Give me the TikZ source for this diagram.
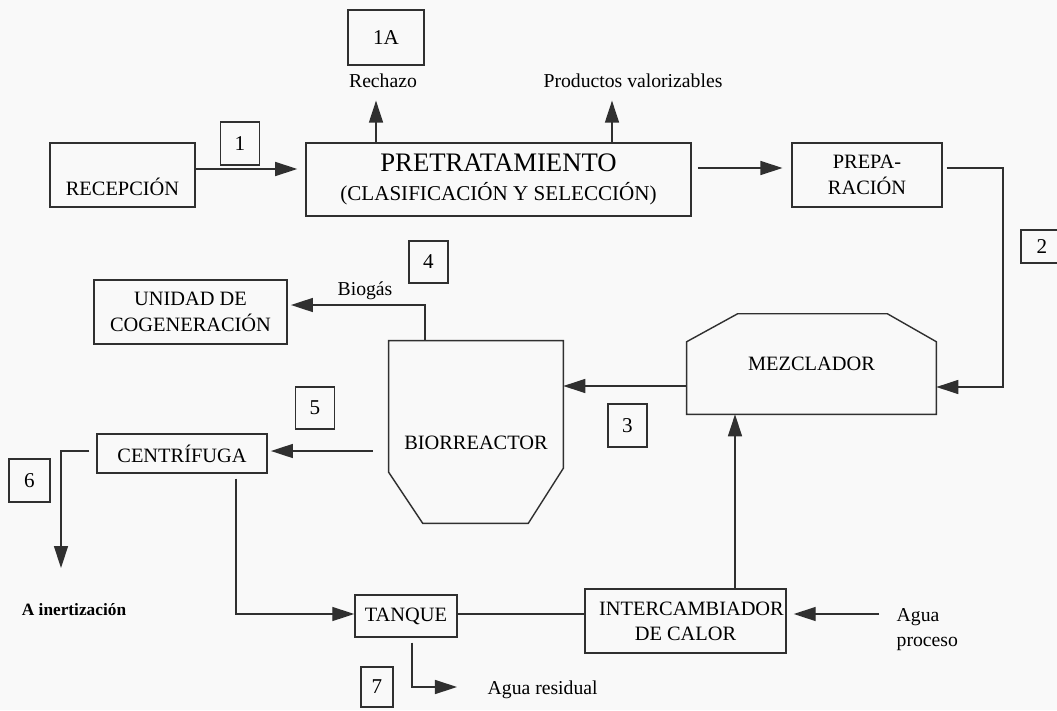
\documentclass[tikz,border=0pt]{standalone}
\usepackage{fontspec}
\setmainfont{Liberation Serif}
\usetikzlibrary{calc, positioning, arrows.meta}
\definecolor{ink}{HTML}{303030}
\definecolor{paper}{HTML}{F9F9F9}
\def\boxh{1.6cm}
\tikzstyle{unit}=[draw=ink, line width=1pt, rectangle, align=center, inner sep=1pt, font=\fontsize{14.5}{18}\selectfont]
\tikzstyle{tag}=[draw=ink, line width=1pt, rectangle, minimum width=0.975cm, minimum height=1.075cm, inner sep=0pt, font=\fontsize{15}{18}\selectfont]
\tikzstyle{note}=[inner sep=1pt, font=\fontsize{14}{18}\selectfont]
\tikzstyle{flow}=[draw=ink, line width=1pt, -{Triangle[length=0.55cm,width=0.35cm]}]
\tikzstyle{pipe}=[draw=ink, line width=1pt]
\begin{document}
\begin{tikzpicture}[x=0.025cm, y=-0.025cm]
		\fill[paper] (0,0) rectangle (1057,710);
		\useasboundingbox (0,0) rectangle (1057,710);
		% linea superior
		\node[unit, minimum width=3.625cm, minimum height=\boxh] (recep) at (122.5,175) {\raisebox{-0.5cm}[0pt][0pt]{RECEPCIÓN}};
		\node[tag] (t1) at (240,143.5) {1};
		\node[unit, minimum width=9.625cm, minimum height=1.825cm, font=\fontsize{15}{21}\selectfont] (pretrat) at (498.5,179.5) {{\fontsize{19}{21}\selectfont PRETRATAMIENTO}\\(CLASIFICACIÓN Y SELECCIÓN)};
		\node[unit, minimum width=3.75cm, minimum height=\boxh] (prepa) at (867,175) {PREPA-\\RACIÓN};
		\node[tag, minimum width=1.9cm, minimum height=1.375cm] (t1A) at (386,37.5) {1A};
		\node[note] (rechazo) at (383,81) {Rechazo};
		\node[note] (valor) at (633,81) {Productos valorizables};
		\draw[flow, shorten >=0.2cm] (recep.east |- 0,169) -- (pretrat.west |- 0,169);
		\draw[flow, shorten >=0.275cm] (pretrat.north -| 376,0) -- (rechazo.south -| 376,0);
		\draw[flow, shorten >=0.275cm] (pretrat.north -| 612,0) -- (valor.south -| 612,0);
		\draw[flow, shorten <=0.15cm, shorten >=0.22cm] (pretrat.east |- 0,168) -- (prepa.west |- 0,168);
		% mezclador y biorreactor
		\node[tag, minimum width=1.05cm, minimum height=0.825cm] (t2) at (1042,246.5) {2};
		\node[font=\fontsize{14.5}{18}\selectfont, minimum width=6.225cm, minimum height=2.5cm] (mezclador) at (811.5,364) {MEZCLADOR};
		\draw[pipe] (mezclador.south west) -- (mezclador.south east) -- ([yshift=-0.7cm]mezclador.north east) -- ([xshift=-1.225cm]mezclador.north east) -- ([xshift=1.275cm]mezclador.north west) -- ([yshift=-0.7cm]mezclador.north west) -- cycle;
		\draw[flow, shorten <=0.1cm] (prepa.east |- 0,168) -- (1003,168) |- (mezclador.east |- 0,387);
		\node[font=\fontsize{14.5}{18}\selectfont, minimum width=4.35cm, minimum height=4.55cm] (bio) at (476,432) {\raisebox{-0.43cm}[0pt][0pt]{BIORREACTOR}};
		\draw[pipe] (bio.north west) -- (bio.north east) -- ([yshift=1.375cm]bio.south east) -- ([xshift=-0.875cm]bio.south east) -- ([xshift=0.85cm]bio.south west) -- ([yshift=1.275cm]bio.south west) -- cycle;
		\draw[flow] (mezclador.west |- 0,386) -- (bio.east |- 0,386);
		\node[tag] (t3) at (627.5,425.5) {3};
		% biogas
		\node[unit, minimum width=4.825cm, minimum height=\boxh] (cogen) at (190.5,312) {UNIDAD DE\\COGENERACIÓN};
		\node[note] (biogas) at (365,291) {Biogás};
		\node[tag, minimum height=1.05cm] (t4) at (428.5,262) {4};
		\draw[flow, shorten >=0.08cm] (bio.north -| 425,0) |- (cogen.east |- 0,305);
		% centrifuga
		\node[tag, minimum height=1.05cm] (t5) at (315,408) {5};
		\node[unit, minimum width=4.25cm, minimum height=0.975cm] (centri) at (182,453.5) {CENTRÍFUGA};
		\draw[flow, shorten <=0.4cm, shorten >=0.08cm] (bio.west |- 0,451) -- (centri.east |- 0,451);
		\node[tag, minimum width=1.025cm] (t6) at (29.5,480.5) {6};
		\node[font=\bfseries\fontsize{12.3}{15}\selectfont] (inert) at (74,610) {A inertización};
		\coordinate (c6) at (61,568);
		\draw[flow, shorten <=0.175cm] (centri.west |- 0,451) -| (c6);
		% tanque e intercambiador
		\node[unit, minimum width=2.55cm, minimum height=1.05cm] (tanque) at (406,616) {TANQUE};
		\draw[flow, shorten <=0.125cm] (centri.south -| 236,0) |- (tanque.west |- 0,614);
		\node[unit, minimum width=5.025cm, minimum height=\boxh, inner xsep=0pt] (intercam) at (685.5,621) {\hspace*{0.3cm}INTERCAMBIADOR\\DE CALOR};
		\draw[pipe] (tanque.east |- 0,614) -- (intercam.west |- 0,614);
		\draw[flow] (intercam.north -| 735,0) -- (mezclador.south -| 735,0);
		\node[note, align=left, anchor=west] (agua) at (895,629.5) {Agua\\proceso};
		\draw[flow, shorten <=0.4cm, shorten >=0.175cm] (agua.west |- 0,614) -- (intercam.east |- 0,614);
		\node[tag, minimum width=0.8cm, minimum height=1.0cm] (t7) at (377,687) {7};
		\node[note, anchor=west] (residual) at (486,690) {Agua residual};
		\draw[flow, shorten <=0.125cm, shorten >=0.725cm] (tanque.south -| 412,0) |- (residual.west |- 0,687);
	\end{tikzpicture}
\end{document}
